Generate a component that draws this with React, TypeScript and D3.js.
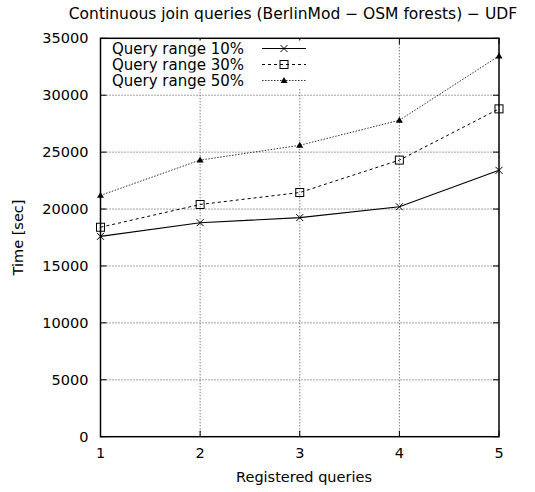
import React from "react";
import * as d3 from "d3";

const xValues = [1, 2, 3, 4, 5];
const range10 = [17600, 18800, 19250, 20200, 23400];
const range30 = [18400, 20400, 21450, 24300, 28800];
const range50 = [21200, 24300, 25600, 27800, 33450];
const yTicks = [0, 5000, 10000, 15000, 20000, 25000, 30000, 35000];
const seriesNames = ["Query range 10%", "Query range 30%", "Query range 50%"];

const W = 535, H = 492;
const M = { left: 100.5, right: 499, top: 38.3, bottom: 436.7 };
const FONT = "'DejaVu Sans', Verdana, sans-serif";

function Marker({ kind, x, y }: { kind: string; x: number; y: number }) {
  if (kind === "x") {
    const s = 3.5;
    return (
      <path d={`M${x - s},${y - s}L${x + s},${y + s}M${x - s},${y + s}L${x + s},${y - s}`} stroke="#000" strokeWidth={1} fill="none" />
    );
  }
  if (kind === "sq") {
    const s = 4;
    return <rect x={x - s} y={y - s} width={2 * s} height={2 * s} fill="none" stroke="#000" strokeWidth={1} />;
  }
  const s = 3.5;
  return <path d={`M${x},${y - s}L${x + s},${y + s * 0.7}L${x - s},${y + s * 0.7}Z`} fill="#000" />;
}

export default function App() {
  const x = d3.scaleLinear().domain([1, 5]).range([M.left, M.right]);
  const y = d3.scaleLinear().domain([0, 35000]).range([M.bottom, M.top]);
  const line = d3.line<number>().x((_, i) => x(xValues[i])).y((d) => y(d));

  const series = [
    { name: seriesNames[0], data: range10, dash: undefined, marker: "x", color: "#000", width: 1.1 },
    { name: seriesNames[1], data: range30, dash: "3,3", marker: "sq", color: "#000", width: 1 },
    { name: seriesNames[2], data: range50, dash: "1.5,1.5", marker: "tri", color: "#333", width: 1 },
  ];

  return (
    <svg width={W} height={H} style={{ position: "absolute", left: 0, top: 0 }} fontFamily={FONT}>
      <rect width={W} height={H} fill="#fff" />
      {yTicks.slice(1, -1).map((t) => (
        <line key={"gy" + t} x1={M.left} x2={M.right} y1={y(t)} y2={y(t)} stroke="#444" strokeWidth={1} strokeDasharray="1,2" />
      ))}
      {xValues.slice(1, -1).map((t) => (
        <line key={"gx" + t} x1={x(t)} x2={x(t)} y1={M.top} y2={M.bottom} stroke="#444" strokeWidth={1} strokeDasharray="1,2" />
      ))}
      {yTicks.map((t) => (
        <g key={"ty" + t}>
          <line x1={M.left} x2={M.left + 6} y1={y(t)} y2={y(t)} stroke="#000" />
          <line x1={M.right} x2={M.right - 6} y1={y(t)} y2={y(t)} stroke="#000" />
          <text x={M.left - 12} y={y(t)} dy="0.35em" textAnchor="end" fontSize={14.5}>{t}</text>
        </g>
      ))}
      {xValues.map((t) => (
        <g key={"tx" + t}>
          <line x1={x(t)} x2={x(t)} y1={M.bottom} y2={M.bottom - 6} stroke="#000" />
          <line x1={x(t)} x2={x(t)} y1={M.top} y2={M.top + 6} stroke="#000" />
          <text x={x(t)} y={M.bottom + 21} textAnchor="middle" fontSize={14.5}>{t}</text>
        </g>
      ))}
      {series.map((s) => (
        <g key={s.name}>
          <path d={line(s.data) || ""} fill="none" stroke={s.color} strokeWidth={s.width} strokeDasharray={s.dash} />
          {s.data.map((v, i) => (
            <Marker key={i} kind={s.marker} x={x(xValues[i])} y={y(v)} />
          ))}
        </g>
      ))}
      <rect x={M.left} y={M.top} width={M.right - M.left} height={M.bottom - M.top} fill="none" stroke="#000" strokeWidth={1.5} />
      {series.map((s, i) => {
        const ly = 48.5 + i * 16;
        return (
          <g key={"lg" + i}>
            <rect x={108} y={ly - 8} width={200} height={16} fill="#fff" />
            <text x={112} y={ly} dy="0.35em" fontSize={15}>{s.name}</text>
            <line x1={262} x2={306} y1={ly} y2={ly} stroke={s.color} strokeWidth={s.width} strokeDasharray={s.dash} />
            <Marker kind={s.marker} x={284} y={ly} />
          </g>
        );
      })}
      <text x={293} y={19} textAnchor="middle" fontSize={15.5}>Continuous join queries (BerlinMod − OSM forests) − UDF</text>
      <text x={304} y={482} textAnchor="middle" fontSize={14.5}>Registered queries</text>
      <text transform={`translate(23,${(M.top + M.bottom) / 2}) rotate(-90)`} textAnchor="middle" fontSize={14.5}>Time [sec]</text>
    </svg>
  );
}
